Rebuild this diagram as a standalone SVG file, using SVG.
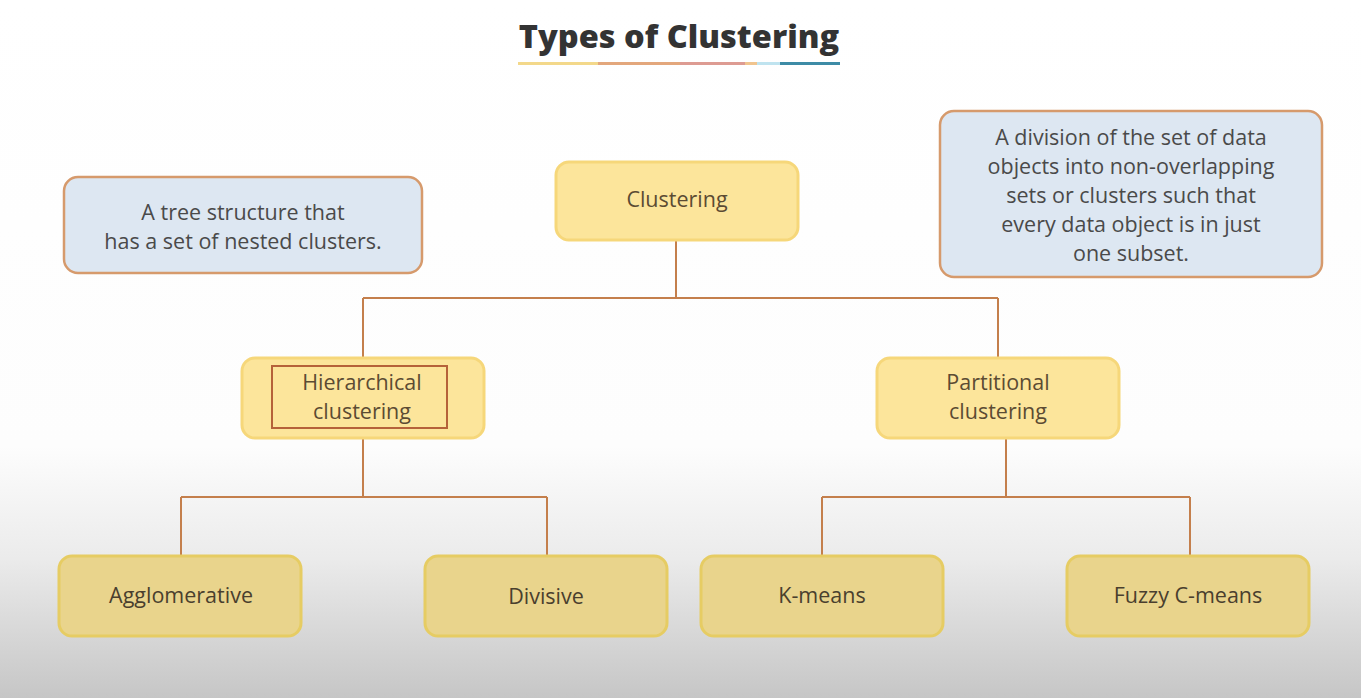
<svg xmlns="http://www.w3.org/2000/svg" width="1361" height="698" viewBox="0 0 1361 698">
<defs>
<linearGradient id="bg" x1="0" y1="0" x2="0" y2="1">
<stop offset="0" stop-color="#ffffff"/>
<stop offset="0.64" stop-color="#fdfdfd"/>
<stop offset="0.8" stop-color="#ebebeb"/>
<stop offset="1" stop-color="#c6c6c6"/>
</linearGradient>
</defs>
<style>
.t{font-family:"Open Sans",Lato,sans-serif;text-anchor:middle;}
.title{font-family:"Open Sans",sans-serif;font-weight:800;font-size:32.5px;fill:#333333;}
.desc{fill:#dde7f2;stroke:#d69a6c;stroke-width:2.5;}
.dtxt{font-size:21.5px;fill:#4a4a4a;}
.top{fill:#fce59b;stroke:#f6d77a;stroke-width:3;}
.bot{fill:#e9d48c;stroke:#e6cc63;stroke-width:3;}
.ntxt{font-size:21.5px;fill:#5b4b33;}
.btxt{font-size:21.5px;fill:#4a3f2e;}
.con{fill:none;stroke:#c47f4c;stroke-width:2;}
</style>
<rect x="0" y="0" width="1361" height="698" fill="url(#bg)"/>
<g id="title">
<text class="t title" x="679" y="48">Types of Clustering</text>
<rect x="518" y="62" width="80" height="3" fill="#f3d88a"/>
<rect x="598" y="62" width="82" height="3" fill="#e3a77c"/>
<rect x="680" y="62" width="65" height="3" fill="#dd9b92"/>
<rect x="745" y="62" width="12" height="3" fill="#f0c48e"/>
<rect x="757" y="62" width="23" height="3" fill="#bfe3ef"/>
<rect x="780" y="62" width="60" height="3" fill="#3d8ba6"/>
</g>
<g id="connectors">
<path class="con" d="M676 240 V298 M363 298 H998 M363 298 V358 M998 298 V358"/>
<path class="con" d="M363 438 V497 M181 497 H547 M181 497 V556 M547 497 V556"/>
<path class="con" d="M1006 438 V497 M822 497 H1190 M822 497 V556 M1190 497 V556"/>
</g>
<g id="desc-left">
<rect class="desc" x="64" y="177" width="358" height="96" rx="14"/>
<text class="t dtxt" x="243" y="220">A tree structure that</text>
<text class="t dtxt" x="243" y="249">has a set of nested clusters.</text>
</g>
<g id="desc-right">
<rect class="desc" x="940" y="111" width="382" height="166" rx="14"/>
<text class="t dtxt" x="1131" y="145">A division of the set of data</text>
<text class="t dtxt" x="1131" y="174">objects into non-overlapping</text>
<text class="t dtxt" x="1131" y="203">sets or clusters such that</text>
<text class="t dtxt" x="1131" y="232">every data object is in just</text>
<text class="t dtxt" x="1131" y="261">one subset.</text>
</g>
<g id="clustering">
<rect class="top" x="556" y="162" width="242" height="78" rx="13"/>
<text class="t ntxt" x="677" y="207">Clustering</text>
</g>
<g id="hierarchical">
<rect class="top" x="242" y="358" width="242" height="80" rx="13"/>
<rect x="272" y="366" width="175" height="62" fill="none" stroke="#b5623a" stroke-width="2"/>
<text class="t ntxt" x="362" y="390">Hierarchical</text>
<text class="t ntxt" x="362" y="419">clustering</text>
</g>
<g id="partitional">
<rect class="top" x="877" y="358" width="242" height="80" rx="13"/>
<text class="t ntxt" x="998" y="390">Partitional</text>
<text class="t ntxt" x="998" y="419">clustering</text>
</g>
<g id="agglomerative">
<rect class="bot" x="59" y="556" width="242" height="80" rx="13"/>
<text class="t btxt" x="181" y="603">Agglomerative</text>
</g>
<g id="divisive">
<rect class="bot" x="425" y="556" width="242" height="80" rx="13"/>
<text class="t btxt" x="546" y="604">Divisive</text>
</g>
<g id="kmeans">
<rect class="bot" x="701" y="556" width="242" height="80" rx="13"/>
<text class="t btxt" x="822" y="603">K-means</text>
</g>
<g id="fuzzy">
<rect class="bot" x="1067" y="556" width="242" height="80" rx="13"/>
<text class="t btxt" x="1188" y="603">Fuzzy C-means</text>
</g>
</svg>
